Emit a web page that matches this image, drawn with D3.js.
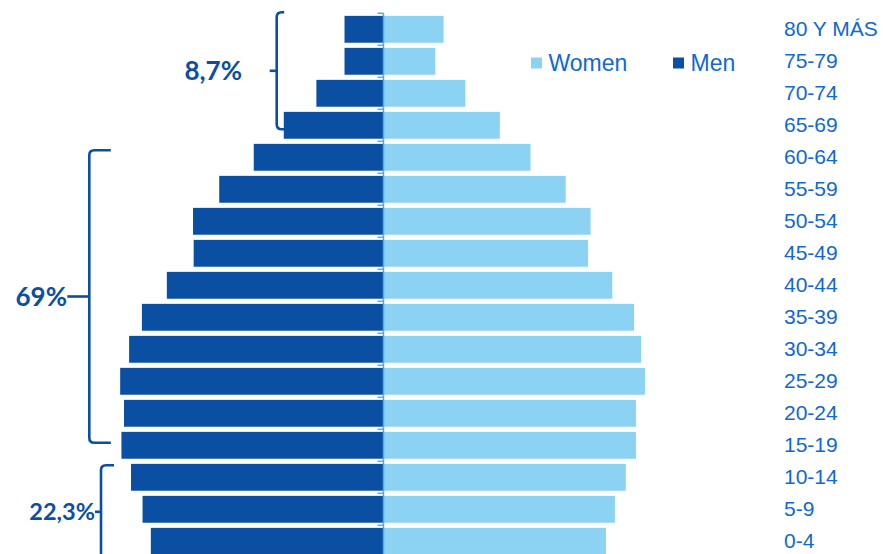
<!DOCTYPE html>
<html>
<head>
<meta charset="utf-8">
<script src="https://cdn.jsdelivr.net/npm/d3@7"></script>
<style>
  html, body { margin: 0; padding: 0; background: #fff; }
  svg { display: block; }
</style>
</head>
<body>
<svg id="chart" width="883" height="554"></svg>
<script>
// ---- data (percent of total population) ----
const ageGroups = ["80 Y MÁS","75-79","70-74","65-69","60-64","55-59","50-54","45-49","40-44","35-39","30-34","25-29","20-24","15-19","10-14","5-9","0-4"];
const men   = [0.61,0.61,1.05,1.56,2.03,2.57,2.98,2.97,3.39,3.78,3.98,4.12,4.06,4.10,3.95,3.77,3.64];
const women = [0.94,0.81,1.28,1.82,2.30,2.85,3.24,3.20,3.58,3.92,4.03,4.09,3.95,3.95,3.79,3.62,3.48];
const seriesNames = ["Women","Men"];
const groupLabels = ["8,7%","69%","22,3%"];
const groupRanges = [["80 Y MÁS","65-69"],["60-64","15-19"],["10-14","0-4"]];

const MEN_COLOR = "#0b4fa3";
const WOMEN_COLOR = "#8bd2f3";
const TEXT_COLOR = "#1168cf";
const AXIS_COLOR = "#49b4c6";

const svg = d3.select("#chart");

const x = d3.scaleLinear().domain([-6, 6]).range([0, 767]);
const y = d3.scaleBand().domain(ageGroups).range([13.3, 557.3]).paddingInner(0.16).paddingOuter(0.08);

const rows = ageGroups.map((a, i) => ({age: a, m: men[i], w: women[i]}));

// men bars
svg.append("g").selectAll("rect").data(rows).join("rect")
  .attr("x", d => x(-d.m)).attr("width", d => x(0) - x(-d.m))
  .attr("y", d => y(d.age)).attr("height", y.bandwidth())
  .attr("fill", MEN_COLOR);

// women bars
svg.append("g").selectAll("rect").data(rows).join("rect")
  .attr("x", x(0)).attr("width", d => x(d.w) - x(0))
  .attr("y", d => y(d.age)).attr("height", y.bandwidth())
  .attr("fill", WOMEN_COLOR);

// central axis with ticks at band boundaries
const step = y.step();
const y0 = y.range()[0];
const axisG = svg.append("g");
axisG.append("line")
  .attr("x1", x(0)).attr("x2", x(0))
  .attr("y1", y0).attr("y2", 554)
  .attr("stroke", AXIS_COLOR).attr("stroke-width", 1.5);
axisG.selectAll("line.tick").data(d3.range(ageGroups.length + 1)).join("line")
  .attr("class", "tick")
  .attr("x1", x(0) - 6).attr("x2", x(0))
  .attr("y1", i => y0 + i * step).attr("y2", i => y0 + i * step)
  .attr("stroke", AXIS_COLOR).attr("stroke-width", 1.5);

// age labels on the right
svg.append("g").selectAll("text").data(ageGroups).join("text")
  .attr("x", 784)
  .attr("y", d => y(d) + y.bandwidth() / 2 + 7)
  .attr("fill", TEXT_COLOR)
  .attr("font-family", "'Liberation Sans', Arial, sans-serif")
  .attr("font-size", 21)
  .text(d => d);

// legend
const legend = svg.append("g");
const legendItems = [
  {name: seriesNames[0], color: WOMEN_COLOR, sx: 531, tx: 548.5},
  {name: seriesNames[1], color: MEN_COLOR, sx: 673, tx: 690.5}
];
legendItems.forEach(it => {
  legend.append("rect").attr("x", it.sx).attr("y", 57.5).attr("width", 11).attr("height", 11).attr("fill", it.color);
  legend.append("text").attr("x", it.tx).attr("y", 71)
    .attr("fill", TEXT_COLOR)
    .attr("font-family", "'Liberation Sans', Arial, sans-serif")
    .attr("font-size", 23)
    .text(it.name);
});

// brackets
const brackets = [
  {label: groupLabels[0], range: groupRanges[0], top: -17, bot: 4,  vx: 276.7, hook: 7.5, nub: 7,  tx: 242, fs: 26},
  {label: groupLabels[1], range: groupRanges[1], top: -7,  bot: -2.6, vx: 89.3, hook: 21.5, nub: 22, tx: 67, fs: 26},
  {label: groupLabels[2], range: groupRanges[2], top: -12, bot: 17, vx: 101,  hook: 13,  nub: 6,  tx: 95, fs: 23.5}
];
const bg = svg.append("g").attr("fill", "none").attr("stroke", MEN_COLOR).attr("stroke-width", 2.6);
brackets.forEach(b => {
  const yt = y(b.range[0]) + y.bandwidth() / 2 + b.top;
  const yb = y(b.range[1]) + y.bandwidth() / 2 + b.bot;
  const ym = (yt + yb) / 2;
  const r = 5;
  const p = d3.path();
  p.moveTo(b.vx + b.hook, yt);
  p.lineTo(b.vx + r, yt);
  p.quadraticCurveTo(b.vx, yt, b.vx, yt + r);
  p.lineTo(b.vx, yb - r);
  p.quadraticCurveTo(b.vx, yb, b.vx + r, yb);
  p.lineTo(b.vx + b.hook, yb);
  bg.append("path").attr("d", p.toString());
  bg.append("line").attr("x1", b.vx - b.nub).attr("x2", b.vx).attr("y1", ym).attr("y2", ym);
  svg.append("text")
    .attr("x", b.tx).attr("y", ym + b.fs * 0.36)
    .attr("text-anchor", "end")
    .attr("fill", MEN_COLOR)
    .attr("font-family", "Lato, 'Open Sans', sans-serif")
    .attr("font-weight", 700)
    .attr("font-size", b.fs)
    .text(b.label);
});
</script>
</body>
</html>
